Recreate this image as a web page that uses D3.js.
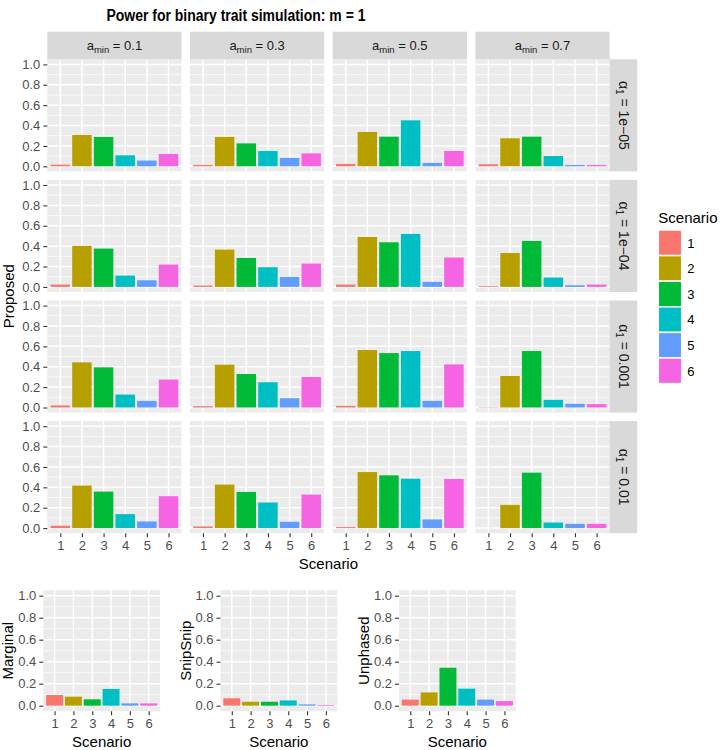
<!DOCTYPE html>
<html>
<head>
<meta charset="utf-8">
<title>Power for binary trait simulation</title>
<script src="https://cdn.jsdelivr.net/npm/d3@7"></script>
<style>
body { margin: 0; background: #fff; }
text { font-family: "Liberation Sans", Arial, sans-serif; }
</style>
</head>
<body>
<script>

var scenarios = ["1", "2", "3", "4", "5", "6"];
var scenarioColours = ["#F8766D", "#B79F00", "#00BA38", "#00BFC4", "#619CFF", "#F564E3"];
var aminLabels = ["0.1", "0.3", "0.5", "0.7"];
var alphaLabels = ["1e\u221205", "1e\u221204", "0.001", "0.01"];
var yTicks = [0, 0.2, 0.4, 0.6, 0.8, 1.0];
var yMinor = [0.1, 0.3, 0.5, 0.7, 0.9];

// proposed method power: one array per alpha_1 row, one list per a_min column
var power_1e05 = [
  [0.016, 0.307, 0.288, 0.108, 0.056, 0.121],
  [0.013, 0.288, 0.225, 0.150, 0.082, 0.127],
  [0.023, 0.337, 0.291, 0.451, 0.033, 0.150],
  [0.020, 0.275, 0.291, 0.101, 0.013, 0.013]
];
var power_1e04 = [
  [0.023, 0.402, 0.376, 0.111, 0.065, 0.219],
  [0.013, 0.366, 0.284, 0.193, 0.098, 0.229],
  [0.023, 0.490, 0.438, 0.520, 0.049, 0.288],
  [0.007, 0.333, 0.451, 0.092, 0.016, 0.023]
];
var power_0001 = [
  [0.020, 0.443, 0.394, 0.127, 0.065, 0.274],
  [0.013, 0.420, 0.329, 0.248, 0.091, 0.300],
  [0.016, 0.564, 0.534, 0.554, 0.065, 0.423],
  [0.003, 0.309, 0.554, 0.075, 0.036, 0.033]
];
var power_001 = [
  [0.023, 0.417, 0.358, 0.137, 0.065, 0.313],
  [0.016, 0.427, 0.355, 0.251, 0.062, 0.329],
  [0.010, 0.550, 0.518, 0.485, 0.085, 0.482],
  [0.000, 0.228, 0.544, 0.055, 0.042, 0.042]
];
var proposedRows = [power_1e05, power_1e04, power_0001, power_001];

var marginal = [0.097, 0.082, 0.058, 0.152, 0.021, 0.021];
var snipsnip = [0.067, 0.036, 0.036, 0.048, 0.012, 0.006];
var unphased = [0.055, 0.121, 0.345, 0.155, 0.055, 0.042];
var otherNames = ["Marginal", "SnipSnip", "Unphased"];
var otherValues = [marginal, snipsnip, unphased];

var W = 725, H = 750;
var panelW = 134.2, panelH = 112.1, gapX = 8.5, gapY = 8.5;
var left0 = 47.3, top0 = 59.3, stripH = 27.6;
var colour = d3.scaleOrdinal().domain(scenarios).range(scenarioColours);

var svg = d3.select("body").append("svg")
  .attr("width", W).attr("height", H)
  .style("background", "#fff");

function drawPanel(px, py, w, h, values, showY, showX) {
  var g = svg.append("g").attr("transform", "translate(" + px + "," + py + ")");
  var x = d3.scalePoint().domain(scenarios).range([0, w]).padding(0.6);
  var y = d3.scaleLinear().domain([-0.05, 1.05]).range([h, 0]);
  var bw = x.step() * 0.9;

  g.append("rect").attr("width", w).attr("height", h).attr("fill", "#EBEBEB");
  g.selectAll(".minor").data(yMinor).enter().append("line")
    .attr("x1", 0).attr("x2", w)
    .attr("y1", function(d) { return y(d); }).attr("y2", function(d) { return y(d); })
    .attr("stroke", "#fff").attr("stroke-width", 0.75);
  g.selectAll(".majory").data(yTicks).enter().append("line")
    .attr("x1", 0).attr("x2", w)
    .attr("y1", function(d) { return y(d); }).attr("y2", function(d) { return y(d); })
    .attr("stroke", "#fff").attr("stroke-width", 1.5);
  g.selectAll(".majorx").data(scenarios).enter().append("line")
    .attr("y1", 0).attr("y2", h)
    .attr("x1", function(d) { return x(d); }).attr("x2", function(d) { return x(d); })
    .attr("stroke", "#fff").attr("stroke-width", 1.5);

  g.selectAll(".bar").data(values).enter().append("rect")
    .attr("x", function(d, i) { return x(scenarios[i]) - bw / 2; })
    .attr("y", function(d) { return y(d); })
    .attr("width", bw)
    .attr("height", function(d) { return y(0) - y(d); })
    .attr("fill", function(d, i) { return colour(scenarios[i]); });

  if (showY) {
    var ay = g.append("g").call(d3.axisLeft(y).tickValues(yTicks)
      .tickFormat(d3.format(".1f")).tickSize(4).tickPadding(3));
    styleAxis(ay);
  }
  if (showX) {
    var ax = g.append("g").attr("transform", "translate(0," + h + ")")
      .call(d3.axisBottom(x).tickSize(4).tickPadding(4));
    styleAxis(ax);
  }
  return g;
}

function styleAxis(a) {
  a.select(".domain").remove();
  a.selectAll(".tick line").attr("stroke", "#333").attr("stroke-width", 1.1);
  a.selectAll(".tick text").attr("fill", "#4D4D4D")
    .style("font-size", "13px").style("font-family", "'Liberation Sans', Arial, sans-serif");
}

// title
svg.append("text").attr("x", 236).attr("y", 21).attr("text-anchor", "middle")
  .attr("textLength", 259).attr("lengthAdjust", "spacingAndGlyphs")
  .style("font-size", "16px").style("font-weight", "bold").text("Power for binary trait simulation: m = 1");

// facet grid
for (var r = 0; r < 4; r++) {
  for (var c = 0; c < 4; c++) {
    var px = left0 + c * (panelW + gapX);
    var py = top0 + r * (panelH + gapY);
    drawPanel(px, py, panelW, panelH, proposedRows[r][c], c === 0, r === 3);
  }
}

// top strips
aminLabels.forEach(function(lab, c) {
  var px = left0 + c * (panelW + gapX);
  svg.append("rect").attr("x", px).attr("y", top0 - stripH)
    .attr("width", panelW).attr("height", stripH).attr("fill", "#D9D9D9");
  var t = svg.append("text").attr("x", px + panelW / 2).attr("y", top0 - stripH / 2 + 4.5)
    .attr("text-anchor", "middle").attr("fill", "#1A1A1A").style("font-size", "13px");
  t.append("tspan").text("a");
  t.append("tspan").attr("dy", 3).style("font-size", "9.5px").text("min");
  t.append("tspan").attr("dy", -3).text(" = " + lab);
});

// right strips
alphaLabels.forEach(function(lab, r) {
  var py = top0 + r * (panelH + gapY);
  var sx = left0 + 4 * panelW + 3 * gapX;
  svg.append("rect").attr("x", sx).attr("y", py)
    .attr("width", stripH).attr("height", panelH).attr("fill", "#D9D9D9");
  var t = svg.append("text")
    .attr("transform", "translate(" + (sx + stripH / 2 - 4.8) + "," + (py + panelH / 2) + ") rotate(90)")
    .attr("text-anchor", "middle").attr("fill", "#1A1A1A").style("font-size", "14px");
  t.append("tspan").text("\u03B1");
  t.append("tspan").attr("dy", 3).style("font-size", "10px").text("1");
  t.append("tspan").attr("dy", -3).text(" = " + lab);
});

// axis titles of the grid
var gridBottom = top0 + 4 * panelH + 3 * gapY;
svg.append("text").attr("transform", "translate(13.5," + ((top0 + gridBottom) / 2) + ") rotate(-90)")
  .attr("text-anchor", "middle").style("font-size", "15px").text("Proposed");
svg.append("text").attr("x", (left0 + left0 + 4 * panelW + 3 * gapX) / 2).attr("y", gridBottom + 36)
  .attr("text-anchor", "middle").style("font-size", "15px").text("Scenario");

// legend
var lg = svg.append("g").attr("transform", "translate(658.3,0)");
lg.append("text").attr("x", 0).attr("y", 223).style("font-size", "15px").text("Scenario");
lg.selectAll(".key").data(scenarios).enter().append("rect")
  .attr("x", 0).attr("y", function(d, i) { return 230 + i * 25.6; })
  .attr("width", 23.4).attr("height", 25.6)
  .attr("fill", function(d) { return colour(d); })
  .attr("stroke", "#fff").attr("stroke-width", 1.5);
lg.selectAll(".lab").data(scenarios).enter().append("text")
  .attr("x", 29).attr("y", function(d, i) { return 230 + i * 25.6 + 17.5; })
  .style("font-size", "13px").text(function(d) { return d; });

// comparison methods
var otherLefts = [43.3, 220.5, 399];
var otherW = 116.7, otherTop = 590.2, otherH = 121;
otherNames.forEach(function(name, i) {
  drawPanel(otherLefts[i], otherTop, otherW, otherH, otherValues[i], true, true);
  svg.append("text")
    .attr("transform", "translate(" + (otherLefts[i] - 30) + "," + (otherTop + otherH / 2) + ") rotate(-90)")
    .attr("text-anchor", "middle").style("font-size", "15px").text(name);
  svg.append("text").attr("x", otherLefts[i] + otherW / 2).attr("y", otherTop + otherH + 36)
    .attr("text-anchor", "middle").style("font-size", "15px").text("Scenario");
});

</script>
</body>
</html>
